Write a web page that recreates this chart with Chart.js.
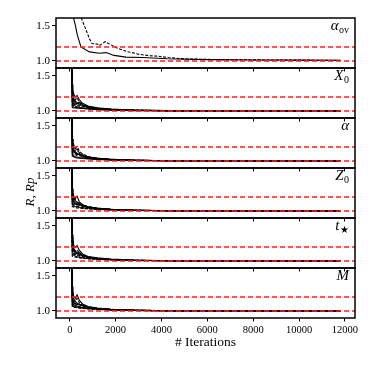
<!DOCTYPE html>
<html>
<head>
<meta charset="utf-8">
<script src="https://cdn.jsdelivr.net/npm/chart.js@4.4.1/dist/chart.umd.min.js"></script>
<style>
  body { margin: 0; background: #fff; }
  #fig { position: relative; width: 374px; height: 374px; overflow: hidden; background: #fff; }
  #fig canvas { position: absolute; left: 0; }
</style>
</head>
<body>
<div id="fig"></div>
<script>
// Data

const iterTicks = [0, 2000, 4000, 6000, 8000, 10000, 12000];
const yTicks = [1.0, 1.5];
const thresholds = [1.0, 1.2];

// alpha_ov panel: one solid run and one dashed run
const ovSolidIter = [100, 130, 245, 330, 490, 860, 1290, 1580, 1930, 2450, 3180, 4240, 6000, 8000, 10000, 11800];
const ovSolid = [1.9, 1.66, 1.51, 1.37, 1.20, 1.13, 1.11, 1.12, 1.08, 1.055, 1.05, 1.033, 1.02, 1.015, 1.012, 1.01];
const ovDashIter = [450, 535, 680, 855, 970, 1220, 1290, 1550, 1800, 2090, 2530, 3030, 3470, 3800, 4300, 5000, 6500, 8500, 10500, 11800];
const ovDashed = [1.68, 1.586, 1.47, 1.32, 1.25, 1.24, 1.22, 1.276, 1.23, 1.18, 1.133, 1.095, 1.076, 1.07, 1.05, 1.03, 1.02, 1.015, 1.012, 1.01];

// other panels: many runs on a shared iteration grid
const runIter = [80, 110, 140, 180, 240, 320, 420, 560, 800, 1200, 1800, 2800, 4500, 11800];

const x0Runs = [
  [2.4, 1.30, 1.22, 1.18, 1.14, 1.12, 1.10, 1.08, 1.06, 1.04, 1.025, 1.012, 1.004, 1.001],
  [2.2, 1.16, 1.12, 1.10, 1.09, 1.08, 1.07, 1.06, 1.05, 1.035, 1.02, 1.01, 1.003, 1.001],
  [2.6, 1.38, 1.28, 1.24, 1.20, 1.22, 1.16, 1.11, 1.07, 1.045, 1.028, 1.013, 1.005, 1.001],
  [2.0, 1.08, 1.07, 1.06, 1.055, 1.05, 1.045, 1.04, 1.03, 1.025, 1.015, 1.008, 1.003, 1.000],
  [2.3, 1.24, 1.20, 1.15, 1.12, 1.10, 1.13, 1.09, 1.06, 1.04, 1.022, 1.01, 1.004, 1.001],
  [2.5, 1.20, 1.14, 1.12, 1.16, 1.19, 1.12, 1.08, 1.055, 1.04, 1.024, 1.011, 1.004, 1.001],
  [2.1, 1.12, 1.09, 1.08, 1.07, 1.06, 1.05, 1.045, 1.04, 1.03, 1.02, 1.01, 1.003, 1.000],
  [2.4, 1.28, 1.18, 1.13, 1.10, 1.09, 1.085, 1.07, 1.05, 1.035, 1.02, 1.009, 1.003, 1.001],
  [2.2, 1.05, 1.05, 1.045, 1.045, 1.04, 1.04, 1.035, 1.03, 1.02, 1.013, 1.006, 1.002, 1.000]
];

const alphaRuns = [
  [2.3, 1.26, 1.20, 1.16, 1.13, 1.11, 1.09, 1.07, 1.05, 1.035, 1.02, 1.01, 1.003, 1.001],
  [2.5, 1.34, 1.25, 1.20, 1.17, 1.21, 1.14, 1.10, 1.065, 1.04, 1.025, 1.012, 1.004, 1.001],
  [2.1, 1.10, 1.08, 1.07, 1.06, 1.055, 1.05, 1.045, 1.035, 1.025, 1.016, 1.008, 1.003, 1.000],
  [2.4, 1.18, 1.14, 1.12, 1.15, 1.17, 1.11, 1.08, 1.055, 1.038, 1.022, 1.01, 1.004, 1.001],
  [2.2, 1.22, 1.17, 1.13, 1.11, 1.09, 1.10, 1.07, 1.05, 1.03, 1.018, 1.009, 1.003, 1.001],
  [2.6, 1.40, 1.30, 1.22, 1.18, 1.15, 1.12, 1.09, 1.06, 1.04, 1.024, 1.011, 1.004, 1.001],
  [2.0, 1.07, 1.065, 1.06, 1.05, 1.045, 1.04, 1.035, 1.03, 1.022, 1.014, 1.007, 1.002, 1.000],
  [2.3, 1.14, 1.11, 1.10, 1.09, 1.08, 1.075, 1.06, 1.045, 1.032, 1.02, 1.01, 1.003, 1.001],
  [2.4, 1.31, 1.21, 1.15, 1.12, 1.10, 1.09, 1.075, 1.055, 1.037, 1.022, 1.01, 1.003, 1.001]
];

const z0Runs = [
  [2.4, 1.32, 1.24, 1.19, 1.15, 1.12, 1.10, 1.08, 1.06, 1.04, 1.024, 1.011, 1.004, 1.001],
  [2.2, 1.12, 1.10, 1.09, 1.08, 1.07, 1.06, 1.05, 1.04, 1.03, 1.018, 1.009, 1.003, 1.000],
  [2.5, 1.26, 1.19, 1.15, 1.18, 1.21, 1.13, 1.09, 1.06, 1.042, 1.026, 1.012, 1.004, 1.001],
  [2.1, 1.06, 1.06, 1.055, 1.05, 1.045, 1.04, 1.035, 1.03, 1.022, 1.014, 1.007, 1.002, 1.000],
  [2.3, 1.20, 1.15, 1.12, 1.10, 1.09, 1.11, 1.08, 1.055, 1.036, 1.021, 1.01, 1.003, 1.001],
  [2.6, 1.36, 1.27, 1.21, 1.16, 1.13, 1.11, 1.085, 1.06, 1.04, 1.023, 1.011, 1.004, 1.001],
  [2.0, 1.09, 1.08, 1.07, 1.065, 1.06, 1.05, 1.045, 1.035, 1.026, 1.016, 1.008, 1.003, 1.000],
  [2.4, 1.16, 1.13, 1.11, 1.10, 1.09, 1.08, 1.065, 1.05, 1.034, 1.02, 1.01, 1.003, 1.001],
  [2.3, 1.23, 1.17, 1.14, 1.12, 1.10, 1.09, 1.07, 1.052, 1.035, 1.021, 1.01, 1.003, 1.001]
];

const tStarRuns = [
  [2.5, 1.30, 1.23, 1.18, 1.14, 1.12, 1.10, 1.08, 1.055, 1.038, 1.022, 1.01, 1.004, 1.001],
  [2.2, 1.15, 1.12, 1.10, 1.09, 1.08, 1.07, 1.055, 1.045, 1.032, 1.02, 1.009, 1.003, 1.000],
  [2.6, 1.38, 1.28, 1.22, 1.19, 1.22, 1.15, 1.10, 1.065, 1.044, 1.027, 1.012, 1.004, 1.001],
  [2.0, 1.07, 1.065, 1.06, 1.055, 1.05, 1.045, 1.04, 1.03, 1.023, 1.014, 1.007, 1.002, 1.000],
  [2.3, 1.22, 1.18, 1.14, 1.12, 1.10, 1.12, 1.08, 1.055, 1.037, 1.021, 1.01, 1.003, 1.001],
  [2.4, 1.25, 1.16, 1.12, 1.14, 1.16, 1.11, 1.08, 1.05, 1.036, 1.022, 1.01, 1.004, 1.001],
  [2.1, 1.10, 1.09, 1.08, 1.07, 1.06, 1.055, 1.045, 1.038, 1.027, 1.017, 1.008, 1.003, 1.000],
  [2.4, 1.18, 1.14, 1.12, 1.10, 1.09, 1.08, 1.065, 1.048, 1.034, 1.02, 1.01, 1.003, 1.001],
  [2.3, 1.34, 1.22, 1.16, 1.13, 1.11, 1.095, 1.075, 1.055, 1.037, 1.022, 1.01, 1.003, 1.001]
];

const massRuns = [
  [2.4, 1.28, 1.21, 1.17, 1.14, 1.11, 1.095, 1.075, 1.055, 1.038, 1.022, 1.01, 1.004, 1.001],
  [2.1, 1.11, 1.09, 1.08, 1.07, 1.065, 1.06, 1.05, 1.04, 1.03, 1.018, 1.008, 1.003, 1.000],
  [2.6, 1.35, 1.26, 1.21, 1.18, 1.23, 1.15, 1.10, 1.065, 1.043, 1.026, 1.012, 1.004, 1.001],
  [2.0, 1.06, 1.055, 1.05, 1.05, 1.045, 1.04, 1.035, 1.03, 1.022, 1.014, 1.007, 1.002, 1.000],
  [2.3, 1.19, 1.15, 1.12, 1.10, 1.09, 1.10, 1.08, 1.055, 1.036, 1.021, 1.01, 1.003, 1.001],
  [2.5, 1.24, 1.17, 1.13, 1.15, 1.18, 1.12, 1.085, 1.055, 1.038, 1.023, 1.011, 1.004, 1.001],
  [2.2, 1.14, 1.11, 1.09, 1.08, 1.07, 1.06, 1.05, 1.042, 1.03, 1.019, 1.009, 1.003, 1.000],
  [2.4, 1.21, 1.16, 1.13, 1.11, 1.095, 1.085, 1.07, 1.05, 1.034, 1.02, 1.01, 1.003, 1.001],
  [2.2, 1.08, 1.07, 1.065, 1.06, 1.055, 1.05, 1.04, 1.033, 1.024, 1.015, 1.007, 1.002, 1.000]
];

const serif = '"Liberation Serif", "DejaVu Serif", serif';
const xMin = -600, xMax = 12440;
const panelTops = [18, 68, 118, 168, 218, 268];

const panels = [
  { main: "\u03b1", sub: "ov" },
  { main: "X", sub: "0", runs: x0Runs },
  { main: "\u03b1", sub: "", runs: alphaRuns },
  { main: "Z", sub: "0", runs: z0Runs },
  { main: "t", sub: "\u2605", runs: tStarRuns },
  { main: "M", sub: "", runs: massRuns }
];

function pairs(xs, ys) {
  return xs.map((x, j) => ({ x: x, y: ys[j] }));
}

function blackLine(data, dashed) {
  return {
    data: data,
    borderColor: "#000",
    borderWidth: 1.1,
    borderDash: dashed ? [3, 1.5] : [],
    pointRadius: 0,
    order: 1
  };
}

const fig = document.getElementById("fig");

panels.forEach((p, i) => {
  const last = i === panels.length - 1;
  const top = panelTops[i] - 2;
  const height = last ? 374 - top : 56;

  const canvas = document.createElement("canvas");
  canvas.width = 374;
  canvas.height = height;
  canvas.style.top = top + "px";
  fig.appendChild(canvas);

  let datasets;
  if (p.runs) {
    datasets = p.runs.map((r, k) => blackLine(pairs(runIter, r), k % 2 === 1));
  } else {
    datasets = [
      blackLine(pairs(ovSolidIter, ovSolid), false),
      blackLine(pairs(ovDashIter, ovDashed), true)
    ];
  }
  thresholds.forEach(t => {
    datasets.push({
      data: [{ x: xMin, y: t }, { x: xMax, y: t }],
      borderColor: "#ff2020",
      borderWidth: 1.5,
      borderDash: [5, 3],
      pointRadius: 0,
      order: -1
    });
  });

  const framePlugin = {
    id: "frame" + i,
    afterDraw(chart) {
      const ctx = chart.ctx;
      const a = chart.chartArea;
      ctx.save();
      ctx.strokeStyle = "#000";
      ctx.lineWidth = 1.5;
      ctx.strokeRect(a.left, a.top, a.right - a.left, a.bottom - a.top);

      // panel label, top right
      ctx.fillStyle = "#000";
      ctx.textBaseline = "alphabetic";
      ctx.textAlign = "left";
      const mainFont = "italic 15px " + serif;
      const subFont = "10px " + serif + ', "DejaVu Sans"';
      ctx.font = subFont;
      const subW = p.sub ? ctx.measureText(p.sub).width : 0;
      ctx.font = mainFont;
      const mainW = ctx.measureText(p.main).width;
      const right = 349;
      const x0 = right - subW - mainW - (p.sub ? 0.5 : 0);
      ctx.fillText(p.main, x0, a.top + 12);
      if (p.sub) {
        ctx.font = subFont;
        ctx.fillText(p.sub, x0 + mainW + 0.5, a.top + 15);
      }

      // shared y label sits beside the Z0 panel
      if (i === 3) {
        ctx.translate(31, 192 - top);
        ctx.rotate(-Math.PI / 2);
        ctx.textAlign = "center";
        ctx.textBaseline = "middle";
        ctx.font = "italic 13px " + serif;
        ctx.fillText("R, Rp", 0, 0);
      }
      ctx.restore();
    }
  };

  new Chart(canvas, {
    type: "line",
    data: { datasets: datasets },
    options: {
      responsive: false,
      animation: false,
      devicePixelRatio: 1,
      layout: { padding: { left: 0, right: 19, top: 2, bottom: 0 } },
      plugins: { legend: { display: false }, tooltip: { enabled: false } },
      elements: { line: { tension: 0 } },
      scales: {
        x: {
          type: "linear",
          min: xMin,
          max: xMax,
          afterBuildTicks: s => { s.ticks = iterTicks.map(v => ({ value: v })); },
          afterFit: s => { s.height = last ? 56 : 4; },
          grid: { drawOnChartArea: false, color: "#000", tickLength: 3.5, tickWidth: 1 },
          border: { display: false },
          ticks: {
            display: last,
            color: "#000",
            font: { family: serif, size: 10.5 },
            padding: 2,
            maxRotation: 0,
            autoSkip: false,
            callback: v => String(v)
          },
          title: {
            display: last,
            text: "# Iterations",
            color: "#000",
            font: { family: serif, size: 13.5 },
            padding: { top: 0, bottom: 23 }
          }
        },
        y: {
          min: 0.9,
          max: 1.614,
          afterBuildTicks: s => { s.ticks = yTicks.map(v => ({ value: v })); },
          afterFit: s => {
            s.width = 56;
            s.paddingTop = 0;
            s.paddingBottom = 0;
          },
          grid: { drawOnChartArea: false, color: "#000", tickLength: 4 },
          border: { display: false },
          ticks: {
            color: "#000",
            font: { family: serif, size: 11 },
            padding: 2,
            callback: v => Number(v).toFixed(1)
          }
        }
      }
    },
    plugins: [framePlugin]
  });
});
</script>
</body>
</html>
